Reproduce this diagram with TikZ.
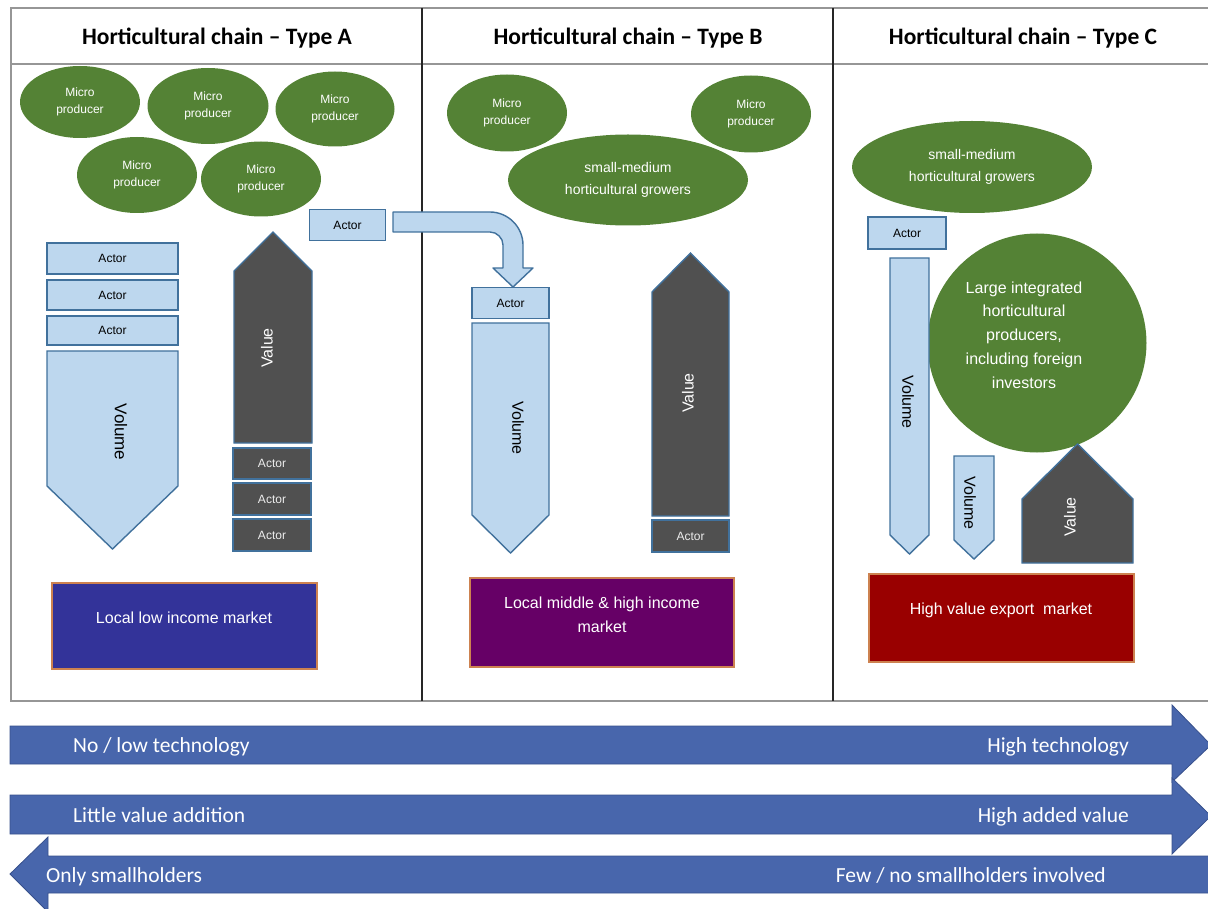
\documentclass[tikz,border=0pt]{standalone}
\usepackage{fontspec}
\setmainfont{Liberation Sans}
\newfontfamily\calib{Carlito}
\usetikzlibrary{shapes.geometric}
\definecolor{lblue}{RGB}{189,215,238}
\definecolor{bord}{RGB}{65,113,156}
\definecolor{dgray}{RGB}{80,80,80}
\definecolor{grn}{RGB}{84,130,53}
\definecolor{arrblue}{RGB}{72,102,172}
\definecolor{arrbord}{RGB}{55,80,140}
\definecolor{mblue}{RGB}{51,51,153}
\definecolor{mpurp}{RGB}{102,0,102}
\definecolor{mred}{RGB}{153,0,0}
\definecolor{mbord}{RGB}{205,130,80}
\definecolor{tgray}{RGB}{150,150,150}
\begin{document}
\begin{tikzpicture}[x=1pt,y=-1pt,
  fs/.style={font=\fontsize{#1}{#1}\selectfont},
  actorL/.style={draw=bord,fill=lblue,line width=1.4pt,inner sep=0pt,fs=12},
  actorD/.style={draw=bord,fill=dgray,line width=1.4pt,inner sep=0pt,fs=12,text=white!85!gray},
  volshape/.style={draw=bord,fill=lblue,line width=1.4pt,line join=miter},
  valshape/.style={draw=bord,fill=dgray,line width=1.4pt,line join=miter},
  voltext/.style={rotate=-90,fs=16},
  valtext/.style={rotate=90,fs=16,text=white},
  green/.style={ellipse,fill=grn,inner sep=0pt,text=white,align=center},
  micro/.style={green,font=\fontsize{12}{17}\selectfont},
  market/.style={draw=mbord,line width=1.2pt,inner sep=0pt},
  mtext/.style={text=white,align=center,font=\fontsize{16}{24}\selectfont},
  header/.style={font=\calib\bfseries\fontsize{23.5}{26}\selectfont},
  bigarrow/.style={fill=arrblue,draw=arrbord,line width=0.8pt,line join=miter},
  arrtext/.style={text=white,inner sep=0pt,font=\calib\fontsize{21.5}{24}\selectfont},
  tline/.style={draw=tgray,line width=1.2pt},
  dline/.style={draw=black!85,line width=1.2pt}
]
\useasboundingbox (0,0) rectangle (1208,909);
\clip (0,0) rectangle (1208,909);

% table
\draw[tline] (1208,8) -- (11,8) -- (11,701) -- (1208,701);
\draw[tline] (11,64) -- (1208,64);
\draw[dline] (422,8) -- (422,701);
\draw[dline] (833,8) -- (833,701);
\node[header] (hA) at (217,38) {Horticultural chain – Type A};
\node[header] (hB) at (628,38) {Horticultural chain – Type B};
\node[header] (hC) at (1023,38) {Horticultural chain – Type C};

% ---- column A
\node[micro,minimum width=120,minimum height=72] (mA1) at (80,102) {Micro\\producer};
\node[micro,minimum width=121,minimum height=76] (mA2) at (208,106) {Micro\\producer};
\node[micro,minimum width=119,minimum height=75] (mA3) at (335,109) {Micro\\producer};
\node[micro,minimum width=120,minimum height=76] (mA4) at (137,175) {Micro\\producer};
\node[micro,minimum width=120,minimum height=75] (mA5) at (261,179) {Micro\\producer};

\node[actorL,minimum width=76,minimum height=31] (aTop) at (347.5,225) {Actor};
\node[actorL,minimum width=131,minimum height=31] (aA1) at (112.5,258.5) {Actor};
\node[actorL,minimum width=131,minimum height=30] (aA2) at (112.5,295) {Actor};
\node[actorL,minimum width=131,minimum height=29] (aA3) at (112.5,330.5) {Actor};
\draw[volshape] (47,351) -- (178,351) -- (178,486) -- (112.5,549) -- (47,486) -- cycle;
\node[voltext,fs=17] (volA) at (121,432) {Volume};

\draw[valshape] (234,443) -- (234,271) -- (273,232) -- (312,271) -- (312,443) -- cycle;
\node[valtext] (valA) at (267,348) {Value};
\node[actorD,minimum width=78,minimum height=31] (dA1) at (272,463.5) {Actor};
\node[actorD,minimum width=78,minimum height=32] (dA2) at (272,499) {Actor};
\node[actorD,minimum width=78,minimum height=32] (dA3) at (272,535) {Actor};

\node[market,fill=mblue,minimum width=265,minimum height=86] (mkA) at (184.5,626) {};
\node[mtext] (mkAt) at (184,618) {Local low income market};

% ---- column B
\node[micro,minimum width=120,minimum height=77] (mB1) at (507,113) {Micro\\producer};
\node[micro,minimum width=120,minimum height=77] (mB2) at (751,114) {Micro\\producer};
\node[green,minimum width=240,minimum height=91,font=\fontsize{14}{22}\selectfont] (smB) at (628,180) {small-medium\\horticultural growers};

% curved block arrow from aTop to aB
\draw[volshape,line join=round] (393,212) -- (490,212) .. controls (508,212) and (523,227) .. (523,245)
  -- (523,268) -- (533,268) -- (513,287) -- (493,268) -- (503,268) -- (503,245)
  .. controls (503,238) and (497,232) .. (490,232) -- (393,232) -- cycle;

\node[actorL,minimum width=77,minimum height=31] (aB) at (510.5,303) {Actor};
\draw[volshape] (472,323) -- (549,323) -- (549,515) -- (510.5,553) -- (472,515) -- cycle;
\node[voltext] (volB) at (518,428) {Volume};

\draw[valshape] (652,516) -- (652,292) -- (690.5,253) -- (729,292) -- (729,516) -- cycle;
\node[valtext] (valB) at (688,393) {Value};
\node[actorD,minimum width=77,minimum height=32] (dB) at (690.5,536) {Actor};

\node[market,fill=mpurp,minimum width=264,minimum height=89] (mkB) at (602,622.5) {};
\node[mtext] (mkBt) at (602,615) {Local middle \& high income\\market};

% ---- column C
\node[green,minimum width=240,minimum height=92,font=\fontsize{14}{22}\selectfont] (smC) at (972,167) {small-medium\\horticultural growers};
\node[actorL,minimum width=78,minimum height=32] (aC) at (907,233) {Actor};
\node[circle,fill=grn,minimum size=219,inner sep=0pt] (big) at (1037,343) {};
\node[text=white,align=center,font=\fontsize{16}{23.8}\selectfont] (bigt) at (1024,335) {Large integrated\\horticultural\\producers,\\including foreign\\investors};

\draw[volshape] (890,258) -- (929,258) -- (929,535) -- (909.5,554) -- (890,535) -- cycle;
\node[voltext] (volC1) at (908,402) {Volume};
\draw[volshape] (954,456) -- (994,456) -- (994,540) -- (974,559) -- (954,540) -- cycle;
\node[voltext] (volC2) at (970,503) {Volume};
\draw[valshape] (1022,563) -- (1022,499) -- (1077.5,444) -- (1133,499) -- (1133,563) -- cycle;
\node[valtext] (valC) at (1070,517) {Value};

\node[market,fill=mred,minimum width=265,minimum height=88] (mkC) at (1001.5,618) {};
\node[mtext] (mkCt) at (1001,610) {High value export\ \ market};

% ---- bottom arrows
\draw[bigarrow] (10,726) -- (1172,726) -- (1172,705) -- (1211,745) -- (1172,782) -- (1172,764) -- (10,764) -- cycle;
\draw[bigarrow] (10,795) -- (1172,795) -- (1172,778) -- (1211,816) -- (1172,854) -- (1172,834) -- (10,834) -- cycle;
\draw[bigarrow] (1215,856) -- (48,856) -- (48,837) -- (10,874) -- (48,912) -- (48,893) -- (1215,893) -- cycle;
\node[arrtext,anchor=base west] (t1l) at (73,752.5) {No / low technology};
\node[arrtext,anchor=base east] (t1r) at (1129,752.5) {High technology};
\node[arrtext,anchor=base west] (t2l) at (73,822.5) {Little value addition};
\node[arrtext,anchor=base east] (t2r) at (1129,822.5) {High added value};
\node[arrtext,anchor=base west] (t3l) at (46,882.5) {Only smallholders};
\node[arrtext,anchor=base east] (t3r) at (1106,882.5) {Few / no smallholders involved};
\end{tikzpicture}
\end{document}
